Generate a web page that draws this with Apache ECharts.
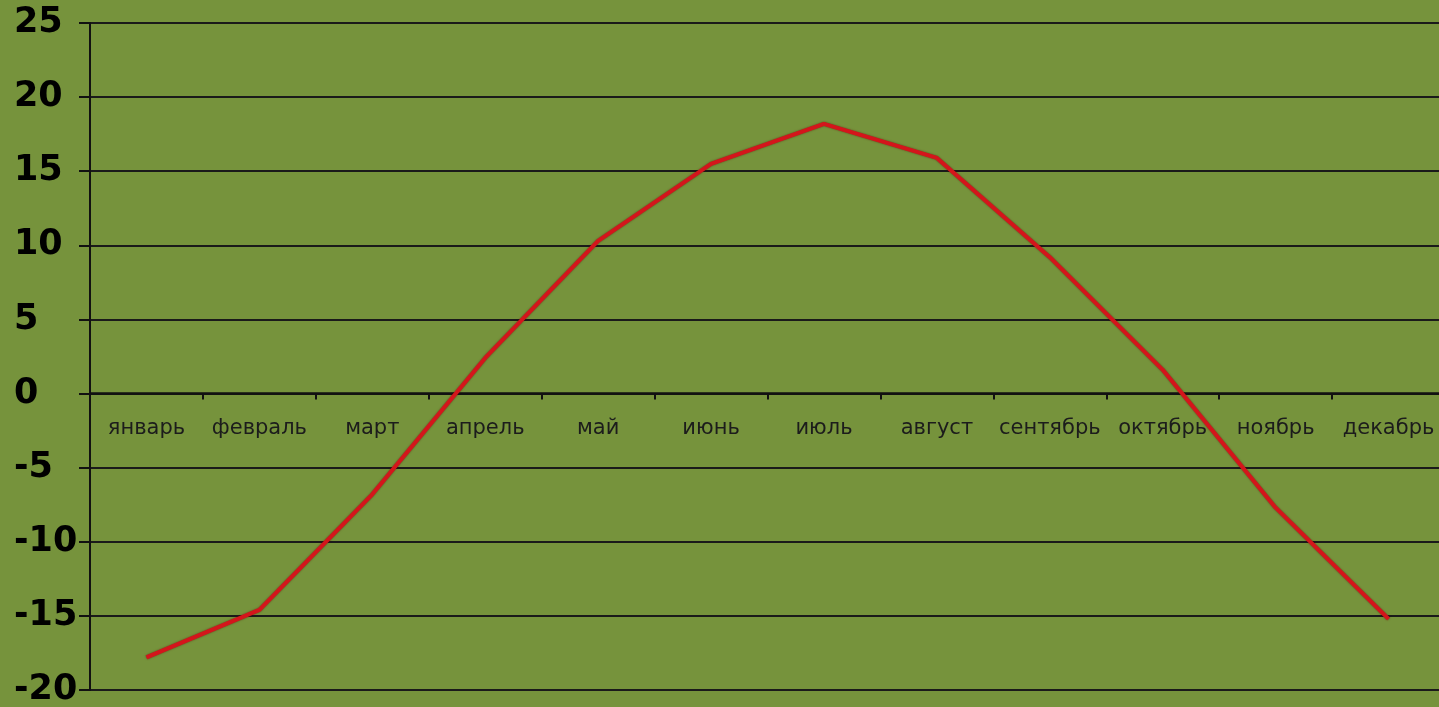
<!DOCTYPE html>
<html>
<head>
<meta charset="utf-8">
<script src="https://cdn.jsdelivr.net/npm/echarts@6/dist/echarts.min.js"></script>
<style>
html,body{margin:0;padding:0;background:#76933c;}
#chart{width:1439px;height:707px;}
</style>
</head>
<body>
<div id="chart"></div>
<script>
const months = ['январь','февраль','март','апрель','май','июнь','июль','август','сентябрь','октябрь','ноябрь','декабрь'];
const temperature = [-17.8, -14.6, -6.8, 2.4, 10.3, 15.5, 18.2, 15.9, 9.2, 1.6, -7.7, -15.2];
const yMin = -20, yMax = 25, yStep = 5;

const gridH = 667;
const zeroOffset = -gridH * (0 - yMin) / (yMax - yMin);

const chart = echarts.init(document.getElementById('chart'));
chart.setOption({
  backgroundColor: '#76933c',
  animation: false,
  grid: { left: 90, top: 23, width: 1355, height: gridH, containLabel: false, outerBoundsMode: 'none' },
  xAxis: [{
    type: 'category',
    data: months,
    boundaryGap: true,
    axisLine: { onZero: true, lineStyle: { color: '#111', width: 2.5 } },
    axisTick: { show: true, length: 6, lineStyle: { color: '#111', width: 2 } },
    axisLabel: { show: false },
    splitLine: { show: false }
  }, {
    type: 'category',
    data: months,
    position: 'bottom',
    offset: zeroOffset,
    boundaryGap: true,
    axisLine: { show: false },
    axisTick: { show: false },
    axisLabel: { color: '#1c1c1c', fontFamily: 'DejaVu Sans', fontSize: 21, margin: 24, interval: 0 },
    splitLine: { show: false }
  }],
  yAxis: {
    type: 'value',
    min: yMin, max: yMax, interval: yStep,
    axisLine: { show: true, lineStyle: { color: '#111', width: 2 } },
    axisTick: { show: true, length: 11, lineStyle: { color: '#111', width: 2 } },
    axisLabel: { color: '#000', fontFamily: 'DejaVu Sans', fontWeight: 'bold', fontSize: 35, align: 'left', margin: 76, padding: [6, 0, 0, 0] },
    splitLine: { show: true, lineStyle: { color: '#1a1a1a', width: 2 } }
  },
  series: [{
    type: 'line',
    xAxisIndex: 0,
    data: temperature,
    symbol: 'none',
    lineStyle: { color: '#d4151b', width: 4, shadowColor: 'rgba(90,0,0,0.6)', shadowBlur: 2 }
  }]
});
</script>
</body>
</html>
